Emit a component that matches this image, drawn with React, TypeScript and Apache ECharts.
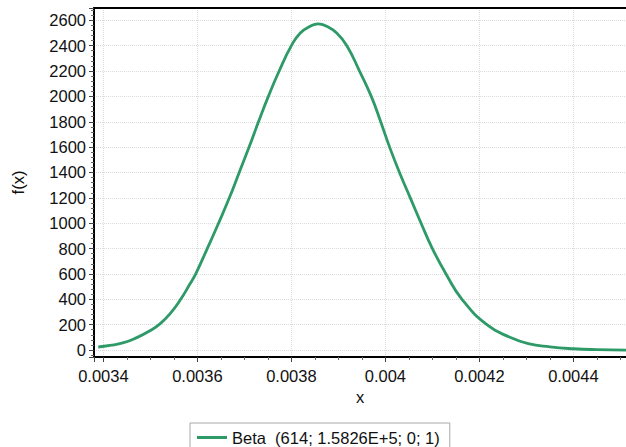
import React, { useEffect, useRef } from "react";
import * as echarts from "echarts";

// Values
const xValues = [
  0.003389, 0.003414, 0.003443, 0.00347, 0.003499, 0.003521, 0.003542, 0.003563,
  0.003584, 0.003597, 0.003621, 0.003645, 0.003668, 0.003689, 0.00371, 0.00373,
  0.003751, 0.003774, 0.0038, 0.003819, 0.00384, 0.003857, 0.003875, 0.003897,
  0.003918, 0.003945, 0.00397, 0.00399, 0.004009, 0.00403, 0.004053, 0.004076,
  0.0041, 0.004129, 0.004163, 0.004216, 0.004265, 0.004304, 0.00435, 0.0044,
  0.00445, 0.004512,
];
const fValues = [
  24, 36, 58, 96, 152, 208, 287, 392,
  520, 605, 800, 1000, 1200, 1400, 1600, 1800,
  2000, 2200, 2400, 2500, 2553, 2572, 2553, 2497,
  2400, 2200, 2000, 1800, 1600, 1400, 1200, 1000,
  800, 600, 400, 200, 100, 50, 25, 10,
  3, 0,
];

const seriesName = "Beta  (614; 1.5826E+5; 0; 1)";
const xAxisName = "x";
const yAxisName = "f(x)";
const xExtent = [0.00338, 0.004512];
const yExtent = [-55, 2697];

export default function App() {
  const ref = useRef<HTMLDivElement>(null);

  useEffect(() => {
    if (!ref.current) return;
    const chart = echarts.init(ref.current, null, { renderer: "svg" });
    const font = "'Liberation Sans', Arial, sans-serif";
    const textColor = "#111";
    const lineColor = "#2d9a68";
    const fs = 16.5;

    chart.setOption({
      animation: false,
      backgroundColor: "#fff",
      textStyle: { fontFamily: font },
      grid: { left: 94, right: 0, top: 8, bottom: 90, containLabel: false },
      legend: {
        show: true,
        left: 190,
        top: 423,
        orient: "horizontal",
        data: [{ name: seriesName, icon: "rect" }],
        itemWidth: 30,
        itemHeight: 3,
        padding: [6, 10, 6, 7],
        borderColor: "#a8a8a8",
        borderWidth: 1,
        borderRadius: 0,
        backgroundColor: "#fff",
        textStyle: { fontSize: fs, color: textColor, fontFamily: font },
      },
      xAxis: [
        {
          type: "value",
          min: xExtent[0],
          max: xExtent[1],
          splitNumber: 6,
          position: "bottom",
          name: xAxisName,
          nameLocation: "middle",
          nameGap: 31,
          nameTextStyle: { fontSize: fs, color: textColor, fontFamily: font },
          axisLine: { show: true, onZero: false, lineStyle: { color: "#000", width: 2 } },
          axisTick: { show: true, length: 5, lineStyle: { color: "#444", width: 1 } },
          minorTick: { show: true, splitNumber: 4, length: 3, lineStyle: { color: "#666", width: 1 } },
          axisLabel: {
            show: true,
            showMinLabel: false,
            showMaxLabel: false,
            fontSize: fs,
            color: textColor,
            fontFamily: font,
            margin: 10,
            formatter: (v: number) => String(Number(v.toPrecision(6))),
          },
          splitLine: { show: true, lineStyle: { color: "#dcdcdc", type: "dotted", width: 1 } },
        },
        {
          type: "value",
          min: xExtent[0],
          max: xExtent[1],
          position: "top",
          axisLine: { show: true, onZero: false, lineStyle: { color: "#000", width: 2 } },
          axisTick: { show: false },
          axisLabel: { show: false },
          splitLine: { show: false },
        },
      ],
      yAxis: {
        type: "value",
        min: yExtent[0],
        max: yExtent[1],
        splitNumber: 14,
        name: yAxisName,
        nameLocation: "middle",
        nameGap: 68,
        nameRotate: 90,
        nameTextStyle: { fontSize: fs, color: textColor, fontFamily: font },
        axisLine: { show: true, onZero: false, lineStyle: { color: "#000", width: 2 } },
        axisTick: { show: true, length: 5, lineStyle: { color: "#444", width: 1 } },
        minorTick: { show: true, splitNumber: 5, length: 3, lineStyle: { color: "#666", width: 1 } },
        axisLabel: {
          show: true,
          showMinLabel: false,
          showMaxLabel: false,
          fontSize: fs,
          color: textColor,
          fontFamily: font,
          margin: 8,
          formatter: (v: number) => String(Math.round(v)),
        },
        splitLine: { show: true, lineStyle: { color: "#dcdcdc", type: "dotted", width: 1 } },
      },
      series: [
        {
          name: seriesName,
          type: "line",
          xAxisIndex: 0,
          yAxisIndex: 0,
          data: xValues.map((x, i) => [x, fValues[i]]),
          symbol: "none",
          showSymbol: false,
          smooth: 0.5,
          lineStyle: { color: lineColor, width: 2.8 },
          itemStyle: { color: lineColor },
          z: 3,
        },
      ],
    });

    return () => chart.dispose();
  }, []);

  return (
    <div
      ref={ref}
      style={{ position: "fixed", left: 0, top: 0, width: 626, height: 447 }}
    />
  );
}
